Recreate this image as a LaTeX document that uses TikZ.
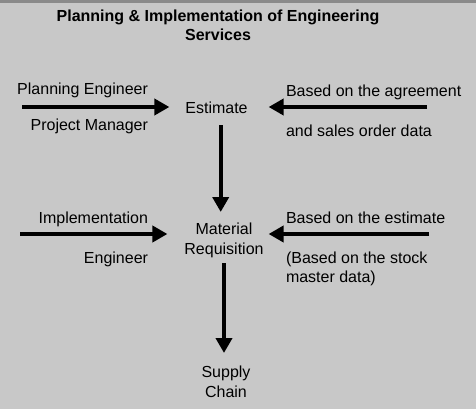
\documentclass[tikz,border=0pt]{standalone}
\usepackage{fontspec}
\setmainfont{Liberation Sans}
\usetikzlibrary{arrows.meta}
\definecolor{bg}{HTML}{C8C8C8}
\definecolor{topbar}{HTML}{8A8A8A}
\begin{document}
\begin{tikzpicture}[x=1pt,y=-1pt,
  txt/.style={inner sep=0pt, outer sep=0pt, font=\fontsize{16}{19.5}\selectfont, text=black},
  ttl/.style={txt, font=\fontsize{16}{19.5}\selectfont\bfseries, align=center},
  arr/.style={line width=4pt, -{Triangle[length=15pt,width=16pt]}}]
\fill[bg] (0,0) rectangle (476,409);
\fill[topbar] (0,0) rectangle (476,3);
\useasboundingbox (0,0) rectangle (476,409);

\node[ttl, anchor=north] (title) at (218,9.5) {Planning \& Implementation of Engineering\\Services};

\node[txt, anchor=base] (est) at (216.5,113.5) {Estimate};
\node[txt, anchor=base east] (pe) at (148,94.5) {Planning Engineer};
\node[txt, anchor=base east] (pm) at (148,130.5) {Project Manager};
\node[txt, anchor=base west] (bag) at (286,96.5) {Based on the agreement};
\node[txt, anchor=base west] (sod) at (286,136.5) {and sales order data};

\node[txt, align=center, anchor=north] (mat) at (224,223) {Material\\Requisition};
\node[txt, anchor=base east] (imp) at (148,223.5) {Implementation};
\node[txt, anchor=base east] (eng) at (148,263.5) {Engineer};
\node[txt, anchor=base west] (bes) at (286,223.5) {Based on the estimate};
\node[txt, align=left, anchor=north west] (stk) at (286,251.5) {(Based on the stock\\master data)};

\node[txt, align=center, anchor=north] (sup) at (226,366) {Supply\\Chain};

\coordinate (s1) at (22,107);
\coordinate (s2) at (427,107);
\coordinate (s3) at (220.7,125);
\coordinate (s4) at (20,234);
\coordinate (s5) at (429,234);
\coordinate (s6) at (224,263);

\draw[arr, shorten >=16pt] (s1) -- (s1 -| est.west);
\draw[arr, shorten >=21pt] (s2) -- (s2 -| est.east);
\draw[arr, shorten >=11pt] (s3) -- (s3 |- mat.north);
\draw[arr, shorten >=17pt] (s4) -- (s4 -| mat.west);
\draw[arr, shorten >=5pt] (s5) -- (s5 -| mat.east);
\draw[arr, shorten >=13pt] (s6) -- (s6 |- sup.north);
\end{tikzpicture}
\end{document}
